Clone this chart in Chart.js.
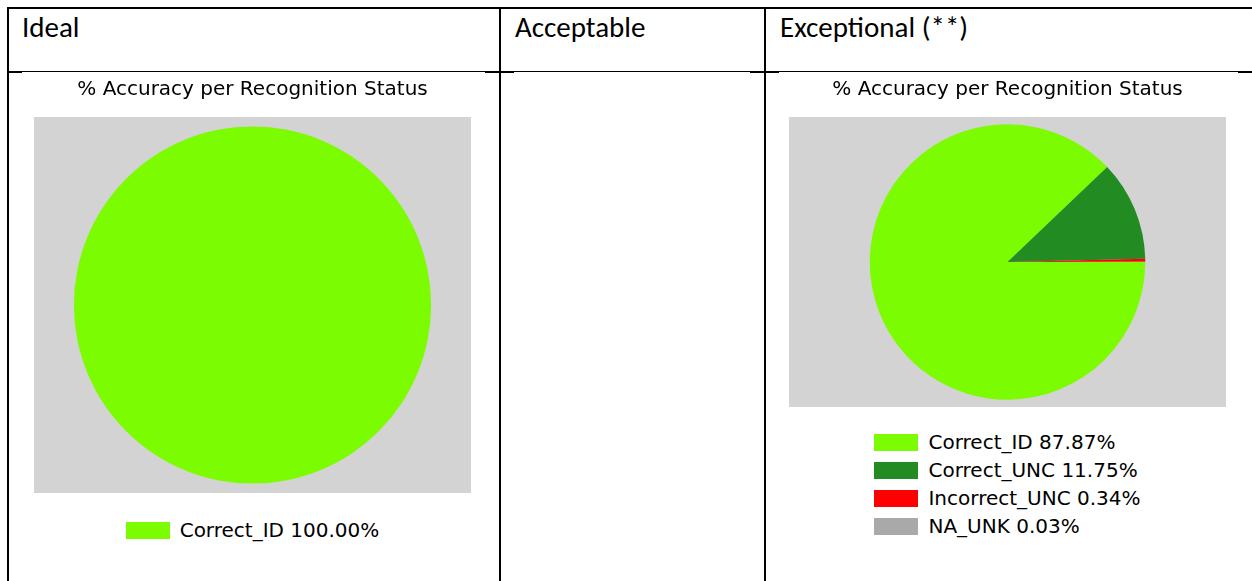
<!DOCTYPE html>
<html>
<head>
<meta charset="utf-8">
<script src="https://cdn.jsdelivr.net/npm/chart.js@4.4.1/dist/chart.umd.min.js"></script>
<style>
  body { margin: 0; background: #fff; width: 1252px; height: 581px; overflow: hidden; position: relative; }
  .ln { position: absolute; background: #000; }
  .hd { position: absolute; top: 9px; font-family: Carlito, Calibri, Lato, sans-serif; font-size: 29px; color: #000; }
  .chartbox { position: absolute; }
  .legend { position: absolute; display: flex; justify-content: center; }
  .legend ul { list-style: none; margin: 0; padding: 0; }
  .legend li { height: 28px; line-height: 28px; font-family: "DejaVu Sans", sans-serif; font-size: 20px; color: #000; white-space: nowrap; display: flex; align-items: center; }
  .legend li span { display: inline-block; width: 44px; height: 17px; margin-right: 10px; }
</style>
</head>
<body>
<!-- lineas de la tabla -->
<div class="ln" style="left:7px;top:7px;width:1245px;height:2px"></div>
<div class="ln" style="left:7px;top:7px;width:2px;height:574px"></div>
<div class="ln" style="left:499px;top:7px;width:2px;height:574px"></div>
<div class="ln" style="left:764px;top:7px;width:2px;height:574px"></div>
<div class="ln" style="left:7px;top:71px;width:1245px;height:1px"></div>
<div class="ln" style="left:8px;top:72px;width:14px;height:1px"></div>
<div class="ln" style="left:485px;top:72px;width:29px;height:1px"></div>
<div class="ln" style="left:750px;top:72px;width:29px;height:1px"></div>
<div class="ln" style="left:1238px;top:72px;width:14px;height:1px"></div>

<div class="hd" style="left:22px">Ideal</div>
<div class="hd" style="left:515px">Acceptable</div>
<div class="hd" style="left:780px">Exceptional (**)</div>

<div class="chartbox" style="left:34px;top:72px;width:437px;height:421px"><canvas id="chart-ideal"></canvas></div>
<div class="legend" id="legend-ideal" style="left:34px;top:516px;width:437px"></div>

<div class="chartbox" style="left:789px;top:72px;width:437px;height:335px"><canvas id="chart-exc"></canvas></div>
<div class="legend" id="legend-exc" style="left:789px;top:428px;width:437px"></div>

<script>
// datos
const chartTitle = "% Accuracy per Recognition Status";
const idealLabels = ["Correct_ID"];
const idealValues = [100.00];
const excLabels = ["Correct_ID", "Correct_UNC", "Incorrect_UNC", "NA_UNK"];
const excValues = [87.87, 11.75, 0.34, 0.03];
const statusColors = ["#7CFC00", "#228B22", "#FF0000", "#A9A9A9"];

// fondo gris del area del grafico
const grayArea = {
  id: "grayArea",
  beforeDraw(chart) {
    const a = chart.chartArea;
    const ctx = chart.ctx;
    ctx.save();
    ctx.fillStyle = "#d3d3d3";
    ctx.fillRect(a.left, a.top, a.right - a.left, a.bottom - a.top);
    ctx.restore();
  }
};

const htmlLegend = (chart, id) => {
  const box = document.getElementById(id);
  const ul = document.createElement("ul");
  const ds = chart.data.datasets[0];
  chart.data.labels.forEach((lab, i) => {
    const li = document.createElement("li");
    const sq = document.createElement("span");
    sq.style.background = ds.backgroundColor[i];
    li.appendChild(sq);
    li.appendChild(document.createTextNode(lab + " " + ds.data[i].toFixed(2) + "%"));
    ul.appendChild(li);
  });
  box.appendChild(ul);
};

const makePie = (canvasId, legendId, labels, values) => {
  const chart = new Chart(document.getElementById(canvasId), {
    type: "pie",
    data: {
      labels,
      datasets: [{
        data: values,
        backgroundColor: statusColors.slice(0, values.length),
        borderWidth: 0,
        radius: "95%"
      }]
    },
    options: {
      responsive: true,
      maintainAspectRatio: false,
      animation: false,
      rotation: 90,
      layout: { padding: 0 },
      plugins: {
        legend: { display: false },
        tooltip: { enabled: false },
        title: {
          display: true,
          text: chartTitle,
          color: "#000",
          font: { family: "'DejaVu Sans', sans-serif", size: 20, weight: "normal", lineHeight: 1.2 },
          padding: { top: 6, bottom: 15 }
        }
      }
    },
    plugins: [grayArea]
  });
  htmlLegend(chart, legendId);
};

makePie("chart-ideal", "legend-ideal", idealLabels, idealValues);
makePie("chart-exc", "legend-exc", excLabels, excValues);
</script>
</body>
</html>
